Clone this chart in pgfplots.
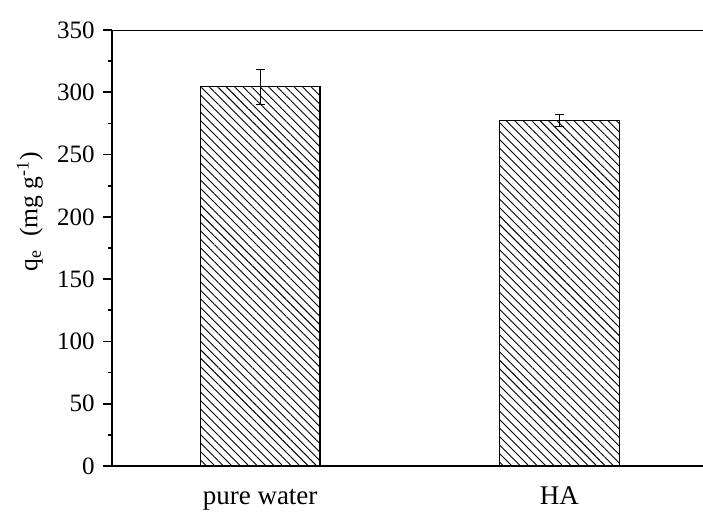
\documentclass[border=0pt]{standalone}
\usepackage{fontspec}
\setmainfont{Liberation Serif}
\usepackage{pgfplots}
\pgfplotsset{compat=1.18}
\usetikzlibrary{patterns.meta}
\begin{document}
\fontsize{12}{14}\selectfont
\begin{tikzpicture}
\begin{axis}[
  scale only axis, width=295.5pt, height=218pt,
  xmin=-0.495, xmax=1.48, ymin=0, ymax=350,
  axis x line*=bottom, axis y line*=left,
  axis line style={line width=1pt, black},
  xtick={0,1}, xticklabels={pure water, HA},
  x tick style={draw=none},
  ytick={0,50,...,350}, minor y tick num=1,
  tick align=outside, major tick length=4.5pt, minor tick length=2pt,
  y tick style={line width=0.8pt, black},
  /pgf/number format/assume math mode=true,
  ticklabel style={font=\fontsize{12.5}{14}\selectfont},
  xticklabel style={anchor=base, yshift=-15pt, font=\fontsize{13.5}{16}\selectfont},
  ylabel={q\textsubscript{e}~ (mg g\textsuperscript{-1})},
  ylabel style={at={(axis description cs:-0.139,0.583)}, anchor=center, font=\fontsize{12.8}{15}\selectfont},
]
\addplot[ybar, bar width=0.4, draw=black, line width=0.6pt,
  pattern={Lines[angle=-45,distance=3pt,line width=0.45pt]},
  error bars/.cd, y dir=both, y explicit,
  error bar style={line width=0.5pt, black},
  error mark options={rotate=90, mark size=2.3pt, line width=0.5pt, black}]
  coordinates {(0,304.5) +- (0,14) (1,277.5) +- (0,5)};
\draw[line width=1pt] (rel axis cs:0,1) -- (rel axis cs:1,1);
\end{axis}
\pgfresetboundingbox
\path[use as bounding box] ([xshift=-56pt,yshift=-24pt]current axis.south west) rectangle ([yshift=15pt]current axis.north east);
\end{tikzpicture}
\end{document}
